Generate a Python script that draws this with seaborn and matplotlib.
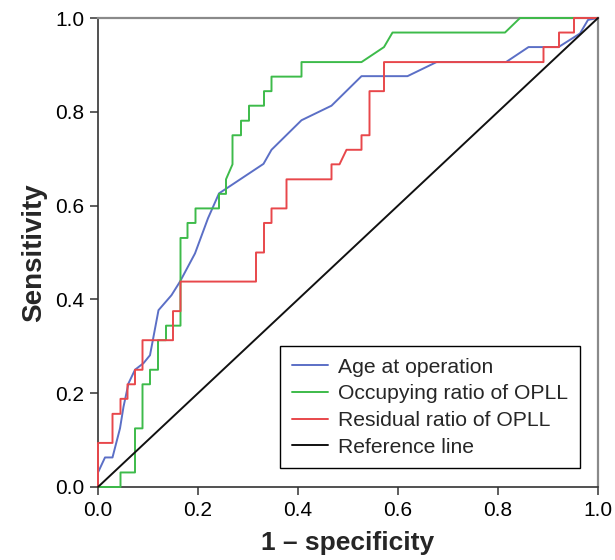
import pandas as pd
import matplotlib
matplotlib.use("Agg")
import matplotlib.pyplot as plt
import seaborn as sns

# ROC curve vertices (1 - specificity, sensitivity)
age_fpr = [0, 0, 0.014, 0.029, 0.044, 0.051, 0.061, 0.074, 0.091, 0.104, 0.121, 0.147,
           0.164, 0.194, 0.22, 0.242, 0.331, 0.347, 0.407, 0.467, 0.527, 0.619, 0.677,
           0.816, 0.861, 0.921, 0.964, 0.98, 1.0]
age_tpr = [0, 0.031, 0.063, 0.063, 0.125, 0.171, 0.221, 0.25, 0.264, 0.281, 0.377, 0.409,
           0.438, 0.498, 0.573, 0.626, 0.689, 0.719, 0.782, 0.813, 0.876, 0.876, 0.906,
           0.906, 0.938, 0.938, 0.967, 0.996, 1.0]

occ_fpr = [0, 0.045, 0.045, 0.074, 0.074, 0.089, 0.089, 0.104, 0.104, 0.12, 0.12, 0.136,
           0.136, 0.165, 0.165, 0.179, 0.179, 0.195, 0.195, 0.242, 0.242, 0.256, 0.256,
           0.269, 0.269, 0.286, 0.286, 0.302, 0.302, 0.332, 0.332, 0.347, 0.347, 0.407,
           0.407, 0.527, 0.572, 0.589, 0.814, 0.844, 1.0]
occ_tpr = [0, 0, 0.031, 0.031, 0.125, 0.125, 0.219, 0.219, 0.25, 0.25, 0.313, 0.313,
           0.344, 0.344, 0.531, 0.531, 0.563, 0.563, 0.594, 0.594, 0.625, 0.625, 0.656,
           0.688, 0.75, 0.75, 0.781, 0.781, 0.813, 0.813, 0.844, 0.844, 0.875, 0.875,
           0.906, 0.906, 0.938, 0.969, 0.969, 1.0, 1.0]

res_fpr = [0, 0, 0.029, 0.029, 0.045, 0.045, 0.059, 0.059, 0.074, 0.074, 0.089, 0.089,
           0.15, 0.15, 0.165, 0.165, 0.316, 0.316, 0.332, 0.332, 0.347, 0.347, 0.377,
           0.377, 0.467, 0.467, 0.483, 0.497, 0.527, 0.527, 0.543, 0.543, 0.572, 0.572,
           0.891, 0.891, 0.922, 0.922, 0.952, 0.952, 1.0]
res_tpr = [0, 0.094, 0.094, 0.156, 0.156, 0.188, 0.188, 0.219, 0.219, 0.25, 0.25, 0.313,
           0.313, 0.375, 0.375, 0.438, 0.438, 0.5, 0.5, 0.563, 0.563, 0.594, 0.594,
           0.656, 0.656, 0.688, 0.688, 0.719, 0.719, 0.75, 0.75, 0.844, 0.844, 0.906,
           0.906, 0.938, 0.938, 0.969, 0.969, 1.0, 1.0]

ref_fpr = [0, 1]
ref_tpr = [0, 1]

series = [
    ("Age at operation", age_fpr, age_tpr, "#5b6fc6"),
    ("Occupying ratio of OPLL", occ_fpr, occ_tpr, "#3dbb4a"),
    ("Residual ratio of OPLL", res_fpr, res_tpr, "#e8474b"),
    ("Reference line", ref_fpr, ref_tpr, "#111111"),
]

sns.set_style("ticks")
plt.rcParams["font.family"] = ["Liberation Sans", "DejaVu Sans"]

fig = plt.figure(figsize=(6.15, 5.6), dpi=100)
ax = fig.add_axes([98 / 615, 73 / 560, 500 / 615, 469 / 560])

for name, fpr, tpr, color in series:
    df = pd.DataFrame({"fpr": fpr, "tpr": tpr})
    sns.lineplot(data=df, x="fpr", y="tpr", sort=False, estimator=None,
                 color=color, linewidth=1.4, label=name, ax=ax,
                 clip_on=False, zorder=3)

ax.set_xlim(0, 1)
ax.set_ylim(0, 1)
ticks = [0.0, 0.2, 0.4, 0.6, 0.8, 1.0]
ax.set_xticks(ticks)
ax.set_yticks(ticks)
ax.set_xticklabels([f"{t:.1f}" for t in ticks])
ax.set_yticklabels([f"{t:.1f}" for t in ticks])
ax.tick_params(axis="both", direction="out", length=5.8, width=1.1,
               color="#333333", labelsize=15, labelcolor="black", pad=4)

for side in ["left", "bottom"]:
    ax.spines[side].set_color("#333333")
    ax.spines[side].set_linewidth(1.2)
for side in ["top", "right"]:
    ax.spines[side].set_visible(True)
    ax.spines[side].set_color("#8a8a8a")
    ax.spines[side].set_linewidth(1.6)

ax.set_xlabel("1 \u2013 specificity", fontsize=19, fontweight="bold", labelpad=8)
ax.set_ylabel("Sensitivity", fontsize=20, fontweight="bold", labelpad=6)

leg = ax.legend(loc="lower right", bbox_to_anchor=(0.964, 0.04), borderaxespad=0,
                fontsize=15.2, frameon=True, fancybox=False, edgecolor="black",
                framealpha=1, handlelength=1.7, handletextpad=0.5,
                labelspacing=0.36, borderpad=0.55)
leg.get_frame().set_linewidth(1.0)

fig.savefig("out.png", dpi=100)
